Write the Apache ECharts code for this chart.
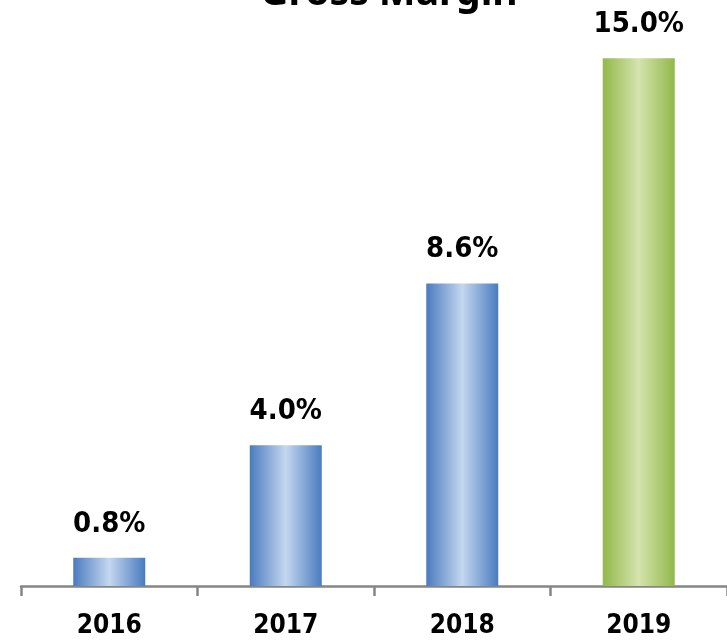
<!DOCTYPE html>
<html>
<head>
<meta charset="utf-8">
<script src="https://cdn.jsdelivr.net/npm/echarts@6/dist/echarts.min.js"></script>
<style>
  html, body { margin: 0; padding: 0; background: #fff; }
  #chart { width: 727px; height: 641px; }
</style>
</head>
<body>
<div id="chart"></div>
<script>
var years = ['2016', '2017', '2018', '2019'];
var grossMargin = [0.8, 4.0, 8.6, 15.0];
var highlightYear = '2019';

function barGradient(edge, mid) {
  return new echarts.graphic.LinearGradient(0, 0, 1, 0, [
    { offset: 0, color: edge },
    { offset: 0.5, color: mid },
    { offset: 1, color: edge }
  ]);
}

var blue = barGradient('#4a7bbf', '#c4d7ef');
var green = barGradient('#92b84a', '#d4e4ad');

var labelFont = 'DejaVu Sans Condensed, Liberation Sans';

var myChart = echarts.init(document.getElementById('chart'));

myChart.setOption({
  animation: false,
  title: {
    text: 'Gross Margin',
    left: 384,
    textAlign: 'center',
    top: -31,
    textStyle: {
      fontFamily: 'Noto Sans',
      fontWeight: 'bold',
      fontSize: 39,
      color: '#000'
    }
  },
  grid: {
    left: 21,
    width: 712,
    top: 23,
    bottom: 55
  },
  xAxis: {
    type: 'category',
    data: years,
    axisLine: { lineStyle: { color: '#858585', width: 2.5 } },
    axisTick: { show: true, length: 10, lineStyle: { color: '#858585', width: 2.5 } },
    axisLabel: {
      margin: 27,
      color: '#000',
      fontFamily: labelFont,
      fontWeight: 'bold',
      fontSize: 26
    }
  },
  yAxis: {
    type: 'value',
    min: 0,
    max: 16,
    show: false,
    splitLine: { show: false }
  },
  series: [{
    type: 'bar',
    barWidth: 72,
    data: grossMargin.map(function (v, i) {
      return {
        value: v,
        itemStyle: { color: years[i] === highlightYear ? green : blue }
      };
    }),
    label: {
      show: true,
      position: 'top',
      distance: 19,
      formatter: function (p) { return p.value.toFixed(1) + '%'; },
      color: '#000',
      fontFamily: labelFont,
      fontWeight: 'bold',
      fontSize: 29
    }
  }]
});
</script>
</body>
</html>
